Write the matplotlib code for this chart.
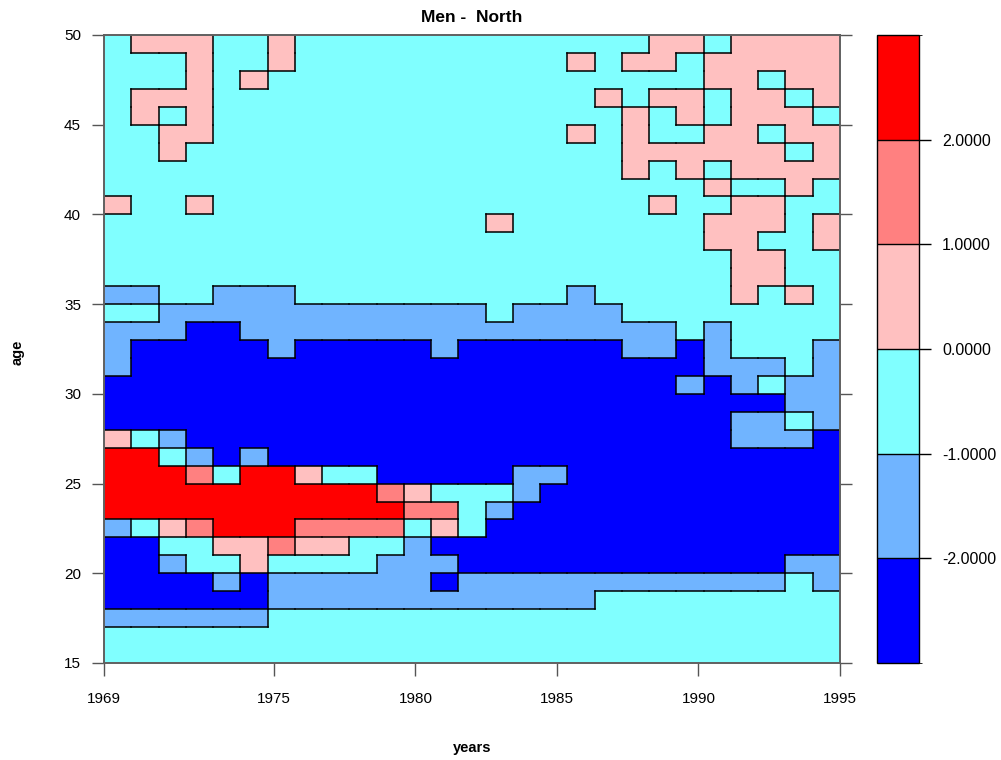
import numpy as np
import matplotlib
matplotlib.use("Agg")
import matplotlib.pyplot as plt
from matplotlib.colors import ListedColormap, BoundaryNorm
from matplotlib.collections import LineCollection

plt.rcParams['font.family'] = ['Liberation Sans', 'DejaVu Sans']

# ---------------- data ----------------
years = list(range(1969, 1996))          # 27 columns
ages = list(range(15, 50))               # 35 rows (lower bound of each 1-year band)

# class code -> representative value
class_values = {'B': -2.5, 'L': -1.5, 'C': -0.5, 'P': 0.5, 'S': 1.5, 'R': 2.5}

# rows listed from age 49 (top) down to age 15 (bottom)
rows_top_to_bottom = [
    "CPPPCCPCC" + "CCCCCCCC" + "CCCPPCPPPP",  # 49
    "CCCPCCPCC" + "CCCCCCCC" + "PCPPCPPPPP",  # 48
    "CCCPCPCCC" + "CCCCCCCC" + "CCCCCPPCPP",  # 47
    "CPPPCCCCC" + "CCCCCCCC" + "CPCPPCPPCP",  # 46
    "CPCPCCCCC" + "CCCCCCCC" + "CCPCPCPPPC",  # 45
    "CCPPCCCCC" + "CCCCCCCC" + "PCPCCPPCPP",  # 44
    "CCPCCCCCC" + "CCCCCCCC" + "CCPPPPPPCP",  # 43
    "CCCCCCCCC" + "CCCCCCCC" + "CCPCPCPPPP",  # 42
    "CCCCCCCCC" + "CCCCCCCC" + "CCCCCPCCPC",  # 41
    "PCCPCCCCC" + "CCCCCCCC" + "CCCPCCPPCC",  # 40
    "CCCCCCCCC" + "CCCCCPCC" + "CCCCCPPPCP",  # 39
    "CCCCCCCCC" + "CCCCCCCC" + "CCCCCPPCCP",  # 38
    "CCCCCCCCC" + "CCCCCCCC" + "CCCCCCPPCC",  # 37
    "CCCCCCCCC" + "CCCCCCCC" + "CCCCCCPPCC",  # 36
    "LLCCLLLCC" + "CCCCCCCC" + "LCCCCCPCPC",  # 35
    "CCLLLLLLL" + "LLLLLCLL" + "LLCCCCCCCC",  # 34
    "LLLBBLLLL" + "LLLLLLLL" + "LLLLCLCCCC",  # 33
    "LBBBBBLBB" + "BBBLBBBB" + "BBLLBLCCCL",  # 32
    "LBBBBBBBB" + "BBBBBBBB" + "BBBBBLLLCL",  # 31
    "BBBBBBBBB" + "BBBBBBBB" + "BBBBLBLCLL",  # 30
    "BBBBBBBBB" + "BBBBBBBB" + "BBBBBBBBLL",  # 29
    "BBBBBBBBB" + "BBBBBBBB" + "BBBBBBLLCL",  # 28
    "PCLBBBBBB" + "BBBBBBBB" + "BBBBBBLLLB",  # 27
    "RRCLBLBBB" + "BBBBBBBB" + "BBBBBBBBBB",  # 26
    "RRRSCRRPC" + "CBBBBBLL" + "BBBBBBBBBB",  # 25
    "RRRRRRRRR" + "RSPCCCLB" + "BBBBBBBBBB",  # 24
    "RRRRRRRRR" + "RRSSCLBB" + "BBBBBBBBBB",  # 23
    "LCPSRRRSS" + "SSCPCBBB" + "BBBBBBBBBB",  # 22
    "BBCCPPSPP" + "CCLBBBBB" + "BBBBBBBBBB",  # 21
    "BBLCCPCCC" + "CLLLBBBB" + "BBBBBBBBLL",  # 20
    "BBBBLBLLL" + "LLLBLLLL" + "LLLLLLLLCL",  # 19
    "BBBBBBLLL" + "LLLLLLLL" + "LCCCCCCCCC",  # 18
    "LLLLLLCCC" + "CCCCCCCC" + "CCCCCCCCCC",  # 17
    "CCCCCCCCC" + "CCCCCCCC" + "CCCCCCCCCC",  # 16
    "CCCCCCCCC" + "CCCCCCCC" + "CCCCCCCCCC",  # 15
]

level_bounds = [-3, -2, -1, 0, 1, 2, 3]
level_colors = ['#0000FF', '#70B4FF', '#80FFFF', '#FFC0C0', '#FF8080', '#FF0000']
cbar_ticks = [-2, -1, 0, 1, 2]
x_ticks = [1969, 1975, 1980, 1985, 1990, 1995]
y_ticks = [15, 20, 25, 30, 35, 40, 45, 50]

title = "Men -  North"
xlabel = "years"
ylabel = "age"

# ---------------- build ----------------
Z = np.array([[class_values[c] for c in row] for row in rows_top_to_bottom[::-1]])
nrow, ncol = Z.shape
x_edges = np.linspace(years[0], years[-1], len(years) + 1)
y_edges = np.arange(ages[0], ages[-1] + 2)

cmap = ListedColormap(level_colors)
norm = BoundaryNorm(level_bounds, cmap.N)
cls = np.digitize(Z, level_bounds)

W, H = 1001, 760
fig = plt.figure(figsize=(W / 100, H / 100), dpi=100)
fig.patch.set_facecolor('white')

ax = fig.add_axes([104 / W, (H - 663) / H, 736 / W, 628 / H])
mesh = ax.pcolormesh(x_edges, y_edges, Z, cmap=cmap, norm=norm, shading='flat',
                     edgecolors='none', antialiased=False)

# boundaries between differing classes
segs = []
for i in range(nrow):
    for j in range(ncol):
        if j + 1 < ncol and cls[i, j] != cls[i, j + 1]:
            segs.append([(x_edges[j + 1], y_edges[i]), (x_edges[j + 1], y_edges[i + 1])])
        if i + 1 < nrow and cls[i, j] != cls[i + 1, j]:
            segs.append([(x_edges[j], y_edges[i + 1]), (x_edges[j + 1], y_edges[i + 1])])
ax.add_collection(LineCollection(segs, colors='black', linewidths=1.1, capstyle='projecting'))

ax.set_xlim(years[0], years[-1])
ax.set_ylim(ages[0], ages[-1] + 1)
ax.set_xticks(x_ticks)
ax.set_xticklabels([str(t) for t in x_ticks])
ax.set_yticks(y_ticks)
ax.set_yticklabels([str(t) for t in y_ticks])
ax.tick_params(axis='x', direction='out', length=9, width=1, color='#555555',
               pad=12, labelsize=11)
ax.tick_params(axis='y', direction='out', length=8.5, width=1, color='#555555',
               pad=8, labelsize=11, right=True, labelright=False)
for s in ax.spines.values():
    s.set_color('#606060')
    s.set_linewidth(1.4)

# colorbar
cax = fig.add_axes([877 / W, (H - 663) / H, 42 / W, 628 / H])
cb = fig.colorbar(mesh, cax=cax, boundaries=level_bounds, ticks=cbar_ticks,
                  drawedges=True, spacing='uniform', format='%.4f')
cb.outline.set_edgecolor('black')
cb.outline.set_linewidth(1.0)
cb.dividers.set_color('black')
cb.dividers.set_linewidth(1.0)
cax.tick_params(direction='out', length=8.6, width=1, color='black', pad=8, labelsize=11.5)

fig.text(472 / W, 1 - 18 / H, title, ha='center', va='center', fontsize=12.5, fontweight='bold')
fig.text(472 / W, 1 - 748 / H, xlabel, ha='center', va='center', fontsize=10.5, fontweight='bold')
fig.text(18 / W, 1 - 352 / H, ylabel, ha='center', va='center', fontsize=10.5,
         fontweight='bold', rotation=90)

fig.savefig('out.png', dpi=100)
